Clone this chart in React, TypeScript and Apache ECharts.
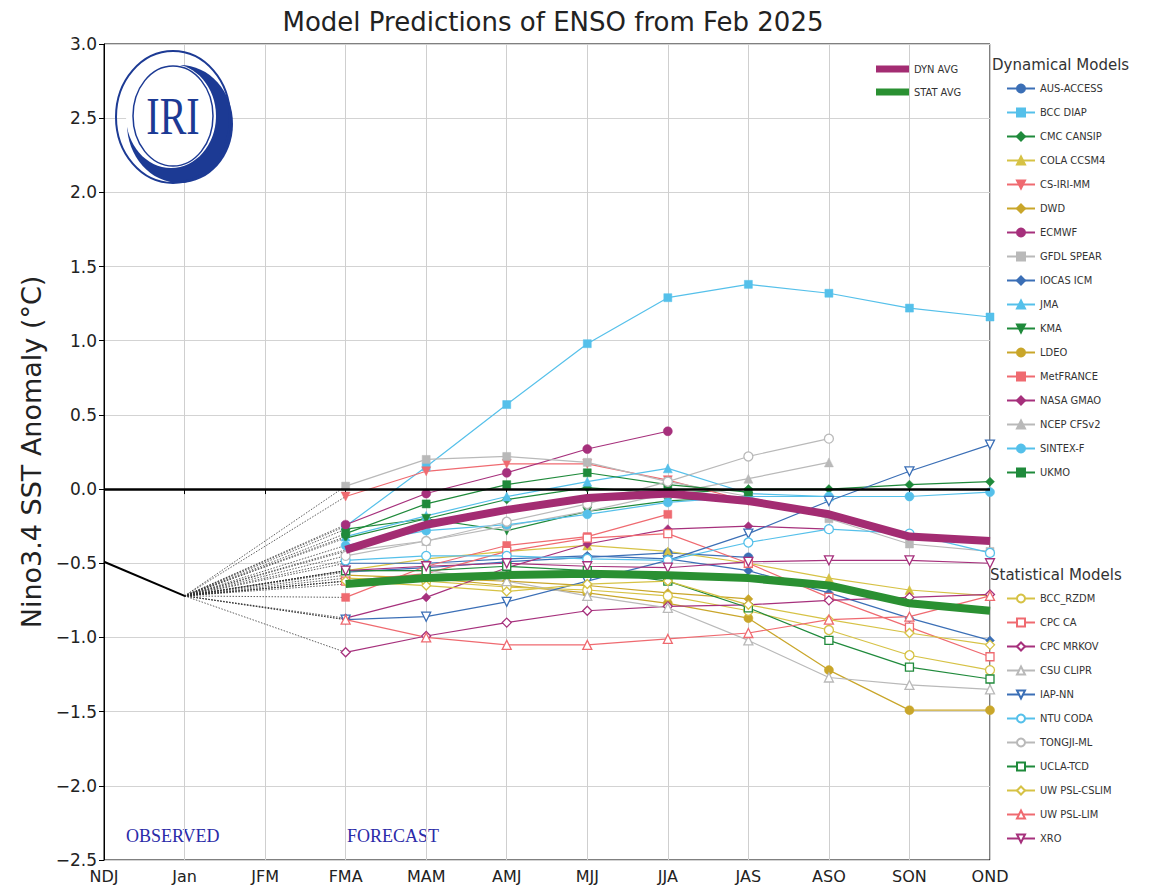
import React, { useEffect, useRef } from "react";
import * as echarts from "echarts";

const categories = ["NDJ", "Jan", "JFM", "FMA", "MAM", "AMJ", "MJJ", "JJA", "JAS", "ASO", "SON", "OND"];
const yTicks = [-2.5, -2.0, -1.5, -1.0, -0.5, 0.0, 0.5, 1.0, 1.5, 2.0, 2.5, 3.0];
const observed = [-0.49, -0.72];

// forecasts, FMA .. OND (null = no forecast)
const dynAvg = [-0.41, -0.24, -0.14, -0.06, -0.03, -0.08, -0.17, -0.32, -0.35];
const statAvg = [-0.64, -0.6, -0.58, -0.57, -0.58, -0.6, -0.65, -0.77, -0.82];

const ausAccess = [-0.56, -0.53, -0.49, -0.46, -0.43, -0.46, null, null, null];
const bccDiap = [-0.25, 0.15, 0.57, 0.98, 1.29, 1.38, 1.32, 1.22, 1.16];
const cmcCansip = [-0.27, -0.2, -0.07, 0.01, -0.03, 0.0, 0.0, 0.03, 0.05];
const colaCcsm4 = [-0.55, -0.47, -0.42, -0.38, -0.42, -0.5, -0.6, -0.68, -0.72];
const csIriMm = [-0.05, 0.12, 0.17, 0.17, 0.06, -0.08, null, null, null];
const dwd = [-0.62, -0.6, -0.62, -0.65, -0.7, -0.74, null, null, null];
const ecmwf = [-0.24, -0.03, 0.11, 0.27, 0.39, null, null, null, null];
const gfdlSpear = [0.02, 0.2, 0.22, 0.18, 0.05, -0.05, -0.2, -0.37, -0.42];
const iocasIcm = [-0.5, -0.5, -0.47, -0.45, -0.47, -0.55, -0.7, -0.87, -1.02];
const jma = [-0.32, -0.18, -0.05, 0.05, 0.14, -0.03, -0.05, null, null];
const kma = [-0.33, -0.2, -0.28, -0.15, -0.08, -0.05, null, null, null];
const ldeo = [-0.58, -0.6, -0.65, -0.7, -0.77, -0.87, -1.22, -1.49, -1.49];
const metFrance = [-0.73, -0.52, -0.38, -0.32, -0.17, null, null, null, null];
const nasaGmao = [-0.87, -0.73, -0.53, -0.37, -0.27, -0.25, -0.27, null, null];
const ncepCfsv2 = [-0.42, -0.35, -0.25, -0.15, -0.03, 0.07, 0.18, null, null];
const sintexF = [-0.38, -0.28, -0.24, -0.17, -0.09, -0.05, -0.05, -0.05, -0.02];
const ukmo = [-0.3, -0.1, 0.03, 0.11, 0.03, -0.02, null, null, null];

const bccRzdm = [-0.6, -0.62, -0.66, -0.68, -0.72, -0.82, -0.95, -1.12, -1.22];
const cpcCa = [-0.62, -0.57, -0.42, -0.33, -0.3, -0.5, -0.73, -0.93, -1.13];
const cpcMrkov = [-1.1, -0.99, -0.9, -0.82, -0.79, -0.78, -0.75, -0.73, -0.71];
const csuClipr = [-0.55, -0.55, -0.62, -0.72, -0.8, -1.02, -1.27, -1.32, -1.35];
const iapNn = [-0.88, -0.86, -0.76, -0.62, -0.48, -0.3, -0.08, 0.12, 0.3];
const ntuCoda = [-0.48, -0.45, -0.45, -0.47, -0.48, -0.36, -0.27, -0.3, -0.43];
const tongjiMl = [-0.45, -0.35, -0.22, -0.1, 0.05, 0.22, 0.34, null, null];
const uclaTcd = [-0.55, -0.55, -0.52, -0.55, -0.62, -0.8, -1.02, -1.2, -1.28];
const uwPslCslim = [-0.62, -0.65, -0.69, -0.64, -0.62, -0.78, -0.88, -0.97, -1.05];
const uwPslLim = [-0.88, -1.0, -1.05, -1.05, -1.01, -0.97, -0.88, -0.86, -0.72];
const xro = [-0.55, -0.52, -0.5, -0.52, -0.53, -0.49, -0.48, -0.48, -0.5];

const BLUE = "#3b6fb6";
const LBLUE = "#55c0ea";
const GREEN = "#1f8a3b";
const YELLOW = "#d6c245";
const GOLD = "#c9a62a";
const RED = "#ef6a70";
const MAGENTA = "#a6307c";
const GRAY = "#b9b9b9";
const DYN_COLOR = "#a32c72";
const STAT_COLOR = "#2a9032";
const TRI_DOWN = "path://M0,0L10,0L5,10Z";

const dynModels = [
  { name: "AUS-ACCESS", values: ausAccess, color: BLUE, symbol: "circle" },
  { name: "BCC DIAP", values: bccDiap, color: LBLUE, symbol: "rect" },
  { name: "CMC CANSIP", values: cmcCansip, color: GREEN, symbol: "diamond" },
  { name: "COLA CCSM4", values: colaCcsm4, color: YELLOW, symbol: "triangle" },
  { name: "CS-IRI-MM", values: csIriMm, color: RED, symbol: TRI_DOWN },
  { name: "DWD", values: dwd, color: GOLD, symbol: "diamond" },
  { name: "ECMWF", values: ecmwf, color: MAGENTA, symbol: "circle" },
  { name: "GFDL SPEAR", values: gfdlSpear, color: GRAY, symbol: "rect" },
  { name: "IOCAS ICM", values: iocasIcm, color: BLUE, symbol: "diamond" },
  { name: "JMA", values: jma, color: LBLUE, symbol: "triangle" },
  { name: "KMA", values: kma, color: GREEN, symbol: TRI_DOWN },
  { name: "LDEO", values: ldeo, color: GOLD, symbol: "circle" },
  { name: "MetFRANCE", values: metFrance, color: RED, symbol: "rect" },
  { name: "NASA GMAO", values: nasaGmao, color: MAGENTA, symbol: "diamond" },
  { name: "NCEP CFSv2", values: ncepCfsv2, color: GRAY, symbol: "triangle" },
  { name: "SINTEX-F", values: sintexF, color: LBLUE, symbol: "circle" },
  { name: "UKMO", values: ukmo, color: GREEN, symbol: "rect" },
];

const statModels = [
  { name: "BCC_RZDM", values: bccRzdm, color: YELLOW, symbol: "circle" },
  { name: "CPC CA", values: cpcCa, color: RED, symbol: "rect" },
  { name: "CPC MRKOV", values: cpcMrkov, color: MAGENTA, symbol: "diamond" },
  { name: "CSU CLIPR", values: csuClipr, color: GRAY, symbol: "triangle" },
  { name: "IAP-NN", values: iapNn, color: BLUE, symbol: TRI_DOWN },
  { name: "NTU CODA", values: ntuCoda, color: LBLUE, symbol: "circle" },
  { name: "TONGJI-ML", values: tongjiMl, color: GRAY, symbol: "circle" },
  { name: "UCLA-TCD", values: uclaTcd, color: GREEN, symbol: "rect" },
  { name: "UW PSL-CSLIM", values: uwPslCslim, color: YELLOW, symbol: "diamond" },
  { name: "UW PSL-LIM", values: uwPslLim, color: RED, symbol: "triangle" },
  { name: "XRO", values: xro, color: MAGENTA, symbol: TRI_DOWN },
];

const pad = (vals: (number | null)[]) => [null, null, null, ...vals].map((v) => (v === null ? "-" : v));

const NAVY = "#1c3a94";
const LEGEND_FONT = "'Liberation Sans Narrow', 'DejaVu Sans Condensed', 'Liberation Sans', sans-serif";

export default function App() {
  const ref = useRef<HTMLDivElement>(null);
  useEffect(() => {
    if (!ref.current) return;
    const chart = echarts.init(ref.current, undefined, { renderer: "svg" });

    const modelSeries = (m: any, hollow: boolean) => ({
      name: m.name,
      type: "line",
      data: pad(m.values),
      symbol: m.symbol,
      symbolSize: m.symbol === "rect" ? 8 : 9,
      showSymbol: true,
      connectNulls: false,
      z: 2,
      lineStyle: { color: m.color, width: 1.2 },
      itemStyle: hollow
        ? { color: "#ffffff", borderColor: m.color, borderWidth: 1.3 }
        : { color: m.color, borderColor: m.color, borderWidth: 0.5 },
      emphasis: { disabled: true },
      silent: true,
    });
    const connector = (m: any, i: number, tag: string) => ({
      name: "conn-" + tag + i,
      type: "line",
      data: [
        [categories[1], observed[1]],
        [categories[3], m.values[0]],
      ],
      symbol: "none",
      z: 1,
      lineStyle: { color: "#333", width: 0.8, type: [1.5, 1.5] },
      emphasis: { disabled: true },
      silent: true,
    });

    const series: any[] = [];
    dynModels.forEach((m, i) => series.push(connector(m, i, "d")));
    statModels.forEach((m, i) => series.push(connector(m, i, "s")));
    series.push(connector({ values: dynAvg }, 0, "da"));
    series.push(connector({ values: statAvg }, 0, "sa"));
    dynModels.forEach((m) => series.push(modelSeries(m, false)));
    statModels.forEach((m) => series.push(modelSeries(m, true)));
    series.push({
      name: "DYN AVG",
      type: "line",
      data: pad(dynAvg),
      symbol: "none",
      z: 4,
      lineStyle: { color: DYN_COLOR, width: 8 },
      itemStyle: { color: DYN_COLOR },
      emphasis: { disabled: true },
      silent: true,
    });
    series.push({
      name: "STAT AVG",
      type: "line",
      data: pad(statAvg),
      symbol: "none",
      z: 4,
      lineStyle: { color: STAT_COLOR, width: 8 },
      itemStyle: { color: STAT_COLOR },
      emphasis: { disabled: true },
      silent: true,
    });
    series.push({
      name: "Observed",
      type: "line",
      data: observed,
      symbol: "none",
      z: 5,
      lineStyle: { color: "#000", width: 2 },
      emphasis: { disabled: true },
      silent: true,
      markLine: {
        silent: true,
        symbol: ["none", "none"],
        label: { show: false },
        lineStyle: { color: "#000", width: 2.5, type: "solid" },
        data: [{ yAxis: 0 }],
      },
    });

    const legendBase = {
      orient: "vertical",
      itemWidth: 28,
      itemHeight: 10,
      itemGap: 13,
      selectedMode: false,
      textStyle: { fontSize: 11, color: "#333", fontFamily: LEGEND_FONT },
    };

    chart.setOption({
      animation: false,
      backgroundColor: "#ffffff",
      textStyle: { fontFamily: "'DejaVu Sans', sans-serif" },
      title: {
        text: "Model Predictions of ENSO from Feb 2025",
        left: 548,
        textAlign: "center",
        top: 4,
        textStyle: { fontSize: 26, fontWeight: "normal", color: "#222", fontFamily: "'DejaVu Sans', sans-serif" },
      },
      legend: [
        {
          ...legendBase,
          data: [
            { name: "DYN AVG", icon: "rect", itemStyle: { color: DYN_COLOR } },
            { name: "STAT AVG", icon: "rect", itemStyle: { color: STAT_COLOR } },
          ],
          left: 871,
          top: 58,
          itemWidth: 33,
          itemHeight: 7,
          itemGap: 11,
          textStyle: { fontSize: 11, color: "#333", fontFamily: LEGEND_FONT, lineHeight: 12 },
        },
        {
          ...legendBase,
          data: dynModels.map((m) => m.name),
          left: 1001,
          top: 78,
        },
        {
          ...legendBase,
          data: statModels.map((m) => m.name),
          left: 1001,
          top: 588,
        },
      ],
      grid: {
        left: 104,
        right: 167,
        top: 44,
        bottom: 35,
        show: true,
        borderColor: "#000",
        borderWidth: 1,
        backgroundColor: "transparent",
      },
      xAxis: {
        type: "category",
        data: categories,
        boundaryGap: false,
        axisLine: { lineStyle: { color: "#000", width: 1 } },
        axisTick: { show: true, alignWithLabel: true, length: 5, lineStyle: { color: "#000" } },
        axisLabel: { fontSize: 16, color: "#222", margin: 8 },
        splitLine: { show: true, lineStyle: { color: "#cfcfcf", width: 1 } },
      },
      yAxis: {
        type: "value",
        min: yTicks[0],
        max: yTicks[yTicks.length - 1],
        interval: 0.5,
        name: "Nino3.4 SST Anomaly (\u00b0C)",
        nameLocation: "middle",
        nameGap: 58,
        nameTextStyle: { fontSize: 27, color: "#222" },
        axisLine: { show: true, lineStyle: { color: "#000", width: 1 } },
        axisTick: { show: true, length: 5, lineStyle: { color: "#000" } },
        axisLabel: {
          fontSize: 17,
          color: "#222",
          margin: 7,
          formatter: (v: number) => (v < 0 ? "\u2212" + Math.abs(v).toFixed(1) : v.toFixed(1)),
        },
        splitLine: { show: true, lineStyle: { color: "#d3d3d3", width: 1.2 } },
      },
      graphic: [
        {
          type: "text",
          left: 992,
          top: 57,
          style: { text: "Dynamical Models", fontSize: 15, fill: "#333", fontFamily: "'DejaVu Sans', sans-serif" },
        },
        {
          type: "text",
          left: 990,
          top: 567,
          style: { text: "Statistical Models", fontSize: 15, fill: "#333", fontFamily: "'DejaVu Sans', sans-serif" },
        },
        {
          type: "text",
          left: 126,
          top: 827,
          style: { text: "OBSERVED", fontSize: 18, fill: "#2b2ba8", fontFamily: "'Liberation Serif', serif" },
        },
        {
          type: "text",
          left: 347,
          top: 827,
          style: { text: "FORECAST", fontSize: 18, fill: "#2b2ba8", fontFamily: "'Liberation Serif', serif" },
        },
        // IRI logo (absolute pixel coordinates inside the group)
        {
          type: "group",
          children: [
            { type: "ellipse", shape: { cx: 180, cy: 124, rx: 53, ry: 59 }, style: { fill: NAVY }, z: 10 },
            { type: "ellipse", shape: { cx: 171, cy: 116, rx: 45, ry: 52 }, style: { fill: "#fff" }, z: 11 },
            { type: "ellipse", shape: { cx: 173, cy: 117, rx: 57, ry: 66 }, style: { fill: "none", stroke: NAVY, lineWidth: 2 }, z: 12 },
            { type: "ellipse", shape: { cx: 173, cy: 116, rx: 40, ry: 50 }, style: { fill: "none", stroke: NAVY, lineWidth: 1.5 }, z: 12 },
            {
              type: "text",
              x: 173,
              y: 117,
              scaleY: 1.3,
              z: 13,
              style: {
                text: "IRI",
                fontSize: 40,
                fill: NAVY,
                fontFamily: "'Liberation Serif', serif",
                align: "center",
                verticalAlign: "middle",
              },
            },
          ],
        },
      ],
      series,
    });
    return () => chart.dispose();
  }, []);
  return <div ref={ref} style={{ position: "fixed", left: 0, top: 0, width: 1157, height: 895, background: "#fff" }} />;
}
